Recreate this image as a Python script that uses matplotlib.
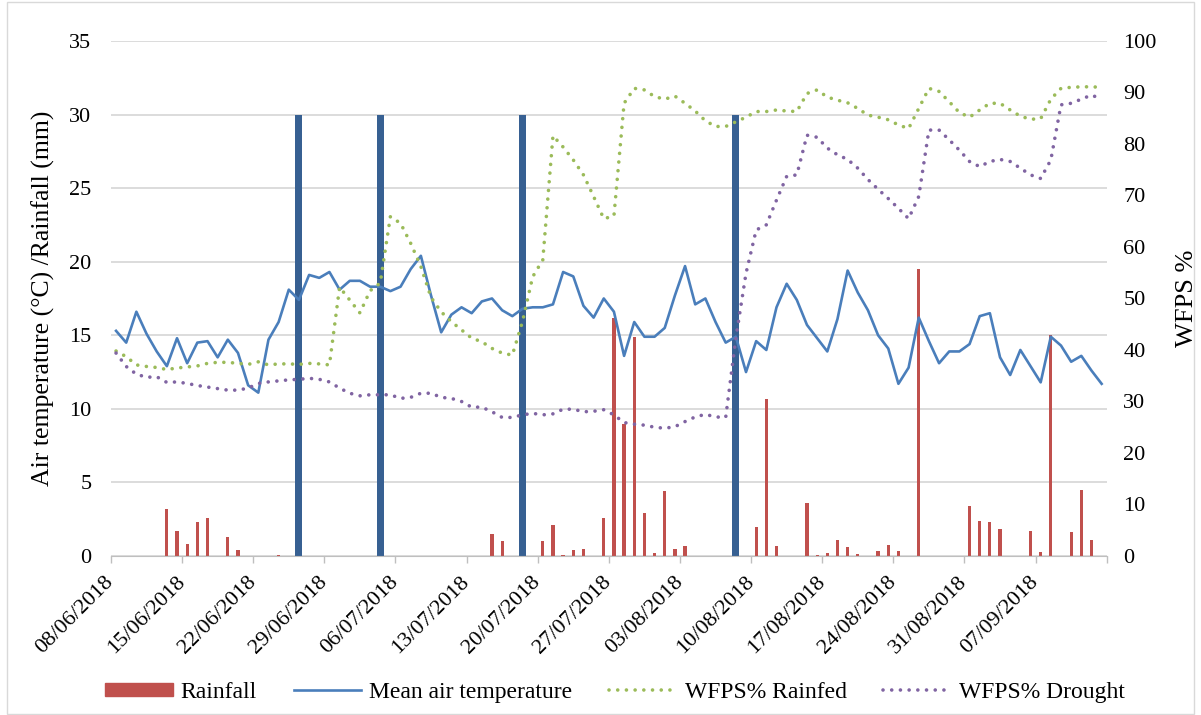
import matplotlib
matplotlib.use("Agg")
import matplotlib.pyplot as plt
from matplotlib.patches import Rectangle
from matplotlib.lines import Line2D
import numpy as np

plt.rcParams['font.family'] = ['Liberation Serif', 'DejaVu Serif']

# daily series, 08/06/2018 .. 13/09/2018 (98 days)
temperature = [
    15.3, 14.5, 16.6, 15.1, 13.9, 12.9, 14.8, 13.1, 14.5, 14.6, 13.5, 14.7,
    13.8, 11.6, 11.1, 14.7, 15.9, 18.1, 17.4, 19.1, 18.9, 19.3, 18.1, 18.7,
    18.7, 18.3, 18.3, 18.0, 18.3, 19.5, 20.4, 17.7, 15.2, 16.4, 16.9, 16.5,
    17.3, 17.5, 16.7, 16.3, 16.8, 16.9, 16.9, 17.1, 19.3, 19.0, 17.0, 16.2,
    17.5, 16.6, 13.6, 15.9, 14.9, 14.9, 15.5, 17.7, 19.7, 17.1, 17.5, 15.9,
    14.5, 14.9, 12.5, 14.6, 14.0, 16.9, 18.5, 17.4, 15.7, 14.8, 13.9, 16.1,
    19.4, 17.9, 16.7, 15.0, 14.1, 11.7, 12.8, 16.2, 14.6, 13.1, 13.9, 13.9,
    14.4, 16.3, 16.5, 13.5, 12.3, 14.0, 12.9, 11.8, 14.9, 14.3, 13.2, 13.6,
    12.6, 11.7,
]

rainfall = [
    0, 0, 0, 0, 0, 3.2, 1.7,
    0.8, 2.3, 2.6, 0, 1.3, 0.4, 0,
    0, 0, 0.05, 0, 0, 0, 0,
    0, 0, 0, 0, 0, 0, 0,
    0, 0, 0, 0, 0, 0, 0,
    0, 0, 1.5, 1.0, 0, 0, 0,
    1.0, 2.1, 0.05, 0.4, 0.5, 0, 2.6,
    16.2, 9.0, 14.9, 2.9, 0.2, 4.4, 0.5,
    0.7, 0, 0, 0, 0, 0, 0,
    2.0, 10.7, 0.7, 0, 0, 3.6, 0.05,
    0.2, 1.1, 0.6, 0.15, 0, 0.35, 0.75,
    0.35, 0, 19.5, 0, 0, 0, 0,
    3.4, 2.4, 2.3, 1.8, 0, 0, 1.7,
    0.3, 15.0, 0, 1.6, 4.5, 1.1, 0,
]

wfps_rainfed = [
    39.8, 38.7, 37.1, 36.8, 36.6, 36.2, 36.5, 36.7, 36.9, 37.4, 37.6, 37.6,
    37.4, 37.2, 37.7, 37.1, 37.3, 37.3, 37.2, 37.4, 37.3, 37.1, 52.2, 49.7,
    47.2, 51.5, 53.0, 65.9, 64.6, 60.7, 56.2, 50.2, 47.4, 45.5, 43.9, 42.3,
    41.6, 40.3, 39.4, 39.0, 45.5, 54.2, 57.5, 81.6, 79.4, 76.9, 74.0, 69.8,
    65.5, 66.0, 87.9, 90.8, 90.5, 89.2, 88.7, 89.3, 87.9, 86.4, 84.5, 83.4,
    83.4, 84.3, 85.2, 86.3, 86.3, 86.6, 86.4, 86.3, 89.8, 90.5, 89.1, 88.5,
    88.0, 86.9, 85.6, 85.2, 84.7, 83.7, 83.0, 86.9, 90.8, 90.2, 88.2, 86.1,
    85.2, 86.6, 87.9, 87.9, 86.6, 85.4, 84.8, 84.9, 88.7, 90.8, 91.0, 91.1,
    91.1, 91.0,
]

wfps_drought = [
    39.4, 36.8, 35.3, 34.7, 34.8, 33.7, 33.8, 33.5, 33.1, 32.8, 32.5, 32.2,
    32.2, 32.6, 33.5, 33.8, 34.0, 34.2, 34.3, 34.5, 34.3, 33.8, 32.6, 31.6,
    31.1, 31.3, 31.3, 31.3, 30.6, 30.8, 31.6, 31.6, 30.8, 30.6, 30.0, 28.9,
    28.9, 28.0, 26.9, 26.9, 27.4, 27.7, 27.4, 27.6, 28.5, 28.5, 28.0, 28.1,
    28.4, 27.4, 25.9, 25.6, 25.4, 25.0, 24.8, 25.1, 26.1, 27.0, 27.5, 27.0,
    26.9, 42.3, 54.9, 63.3, 64.3, 69.1, 73.7, 74.0, 81.7, 81.3, 79.2, 77.9,
    77.0, 75.3, 73.1, 71.2, 69.4, 67.5, 65.5, 69.8, 82.7, 82.7, 80.8, 78.8,
    76.6, 75.6, 76.6, 77.0, 76.6, 75.3, 74.0, 73.3, 76.9, 87.6, 87.9, 88.7,
    89.5, 88.7,
]

# sampling days (day index from 08/06) marked by tall columns
sampling_days = [18, 26, 40, 61]
sampling_height = [30, 30, 30, 30]

week_labels = ['08/06/2018', '15/06/2018', '22/06/2018', '29/06/2018',
               '06/07/2018', '13/07/2018', '20/07/2018', '27/07/2018',
               '03/08/2018', '10/08/2018', '17/08/2018', '24/08/2018',
               '31/08/2018', '07/09/2018', '']

days = np.arange(len(temperature))

fig = plt.figure(figsize=(12.01, 7.15), dpi=100)
ax = fig.add_axes([0.0924, 0.2224, 0.8291, 0.7203])
ax2 = ax.twinx()

ax.bar(days, rainfall, width=0.32, color='#C0504D', zorder=2)
ax.bar(sampling_days, sampling_height, width=0.68, color='#376092', zorder=2)
ax.plot(days, temperature, color='#4A7EBB', lw=1.9, zorder=3)

dot = (0, (0.01, 2.4))
ax2.plot(days, wfps_rainfed, color='#9BBB59', lw=2.6, ls=dot, dash_capstyle='round')
ax2.plot(days, wfps_drought, color='#8064A2', lw=2.6, ls=dot, dash_capstyle='round')

ax.set_xlim(-0.5, len(days) - 0.5)
ax.set_ylim(0, 35)
ax.set_yticks(range(0, 36, 5))
ax2.set_ylim(0, 100)
ax2.set_yticks(range(0, 101, 10))

ax.set_xticks(np.arange(-0.5, len(days), 7))
ax.set_xticklabels(week_labels, rotation=45, ha='right', va='center',
                   rotation_mode='anchor', fontsize=16)
ax.tick_params(axis='x', direction='out', length=5, color='#BFBFBF', width=1, pad=12)
ax.tick_params(axis='y', length=0, labelsize=16, pad=14)
ax2.tick_params(axis='y', length=0, labelsize=16, pad=12)

ax.yaxis.grid(True, color='#D9D9D9', lw=1.3)
ax.set_axisbelow(True)
for s in ['left', 'right', 'top']:
    ax.spines[s].set_visible(False)
ax.spines['bottom'].set_color('#BFBFBF')
for s in ax2.spines.values():
    s.set_visible(False)

ax.set_ylabel('Air temperature (°C) /Rainfall (mm)', fontsize=18.5, labelpad=10)
ax2.set_ylabel('WFPS %', fontsize=19, rotation=90, labelpad=14)

handles = [
    Rectangle((0, 0), 1, 1, color='#C0504D'),
    Line2D([], [], color='#4A7EBB', lw=1.9),
    Line2D([], [], color='#9BBB59', lw=2.6, ls=dot, dash_capstyle='round'),
    Line2D([], [], color='#8064A2', lw=2.6, ls=dot, dash_capstyle='round'),
]
fig.legend(handles, ['Rainfall', 'Mean air temperature', 'WFPS% Rainfed', 'WFPS% Drought'],
           loc='center', bbox_to_anchor=(0.512, 0.032), ncol=4, frameon=False,
           fontsize=17, handlelength=2.85, handleheight=0.5, columnspacing=1.55,
           handletextpad=0.35)

fig.patches.append(Rectangle((0.006, 0.002), 0.988, 0.995, transform=fig.transFigure,
                             fill=False, edgecolor='#D9D9D9', lw=1))

fig.savefig('out.png', dpi=100)
